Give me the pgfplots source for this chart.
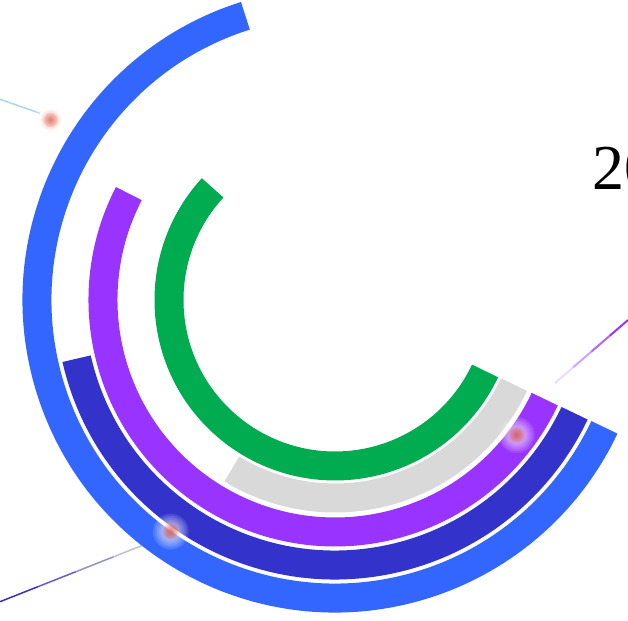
\documentclass[border=0pt]{standalone}
\usepackage{fontspec}
\setmainfont{Liberation Serif}
\usepackage{pgfplots}
\usepackage{pgfplotstable}
\pgfplotsset{compat=1.18}
\definecolor{cgreen}{HTML}{00AC4F}
\definecolor{cgray}{HTML}{D9D9D9}
\definecolor{cpurple}{HTML}{9933FF}
\definecolor{cdblue}{HTML}{3333CC}
\definecolor{cblue}{HTML}{3366FF}
\definecolor{cglow}{RGB}{222,80,60}
\definecolor{cglowl}{RGB}{245,190,180}
\definecolor{lline}{RGB}{170,215,235}
\definecolor{gA}{RGB}{50,50,200}
\definecolor{gB}{RGB}{95,95,200}
\definecolor{gC}{RGB}{145,145,205}
\definecolor{gD}{RGB}{190,190,215}
\pgfdeclareplotmark{blank}{}
\pgfdeclareplotmark{glow}{%
  \pgfsetfillcolor{white}%
  \pgfsetfillopacity{0.12}%
  \pgfpathcircle{\pgfpointorigin}{18pt}\pgfusepath{fill}%
  \pgfpathcircle{\pgfpointorigin}{16pt}\pgfusepath{fill}%
  \pgfpathcircle{\pgfpointorigin}{14pt}\pgfusepath{fill}%
  \pgfpathcircle{\pgfpointorigin}{12pt}\pgfusepath{fill}%
  \pgfsetfillcolor{cglowl}%
  \pgfsetfillopacity{0.2}%
  \pgfpathcircle{\pgfpointorigin}{10.5pt}\pgfusepath{fill}%
  \pgfpathcircle{\pgfpointorigin}{9pt}\pgfusepath{fill}%
  \pgfsetfillcolor{cglow}%
  \pgfsetfillopacity{0.18}%
  \pgfpathcircle{\pgfpointorigin}{7.5pt}\pgfusepath{fill}%
  \pgfpathcircle{\pgfpointorigin}{6pt}\pgfusepath{fill}%
  \pgfpathcircle{\pgfpointorigin}{4.5pt}\pgfusepath{fill}%
  \pgfpathcircle{\pgfpointorigin}{3pt}\pgfusepath{fill}%
  \pgfpathcircle{\pgfpointorigin}{1.8pt}\pgfusepath{fill}%
}

% band: centre (x,y), mid radius r, start angle a0, end angle a1 (degrees, counter-clockwise)
\pgfplotstableread{
x y r a0 a1
0 0 166 137.5 334.7
}\green
\pgfplotstableread{
x y r a0 a1
0 0 198 238.6 334.7
}\gray
\pgfplotstableread{
x y r a0 a1
0 0 232 152.7 334.7
}\purple
\pgfplotstableread{
x y r a0 a1
0 0 265 192.8 334.7
}\dblue
\pgfplotstableread{
x y r a0 a1
0 0 298 107.5 334.7
}\blue

\pgfplotsset{
  band/.style={
    scatter, only marks, mark=blank,
    visualization depends on={\thisrow{r}\as\br},
    visualization depends on={\thisrow{a0}\as\bs},
    visualization depends on={\thisrow{a1}\as\be},
    scatter/@pre marker code/.code={%
      \begin{scope}
      \draw[#1, line width=29pt, line cap=butt] (\bs:\br pt) arc[start angle=\bs, end angle=\be, radius=\br pt];
    },
    scatter/@post marker code/.code={\end{scope}},
  },
}

\begin{document}
\begin{tikzpicture}
\path[use as bounding box] (0pt,0pt) rectangle (628pt,620pt);
\clip (0pt,0pt) rectangle (628pt,620pt);
\begin{axis}[
  x=1pt, y=1pt,
  xmin=-335, xmax=293, ymin=-320, ymax=300,
  hide axis, clip=false,
  anchor=origin, at={(335pt,320pt)},
]
\addplot[band=cgreen] table {\green};
\addplot[band=cgray] table {\gray};
\addplot[band=cpurple] table {\purple};
\addplot[band=cdblue] table {\dblue};
\addplot[band=cblue] table {\blue};

% decorative lines
\addplot[draw=lline, line width=1.5pt, mark=none] coordinates {(-335,200.7) (-295,186.7)};
\addplot[draw=cpurple, line width=2pt, mark=none] coordinates {(293,-20) (274.75,-35.75)};
\addplot[draw=cpurple, opacity=0.75, line width=2pt, mark=none] coordinates {(274.75,-35.75) (256.5,-51.5)};
\addplot[draw=cpurple, opacity=0.45, line width=2pt, mark=none] coordinates {(256.5,-51.5) (238.25,-67.25)};
\addplot[draw=cpurple, opacity=0.18, line width=2pt, mark=none] coordinates {(238.25,-67.25) (220,-83)};
\addplot[draw=gA, line width=1.5pt, mark=none] coordinates {(-335,-301.7) (-297.1,-286.7)};
\addplot[draw=gB, line width=1.5pt, mark=none] coordinates {(-297.1,-286.7) (-259.1,-271.7)};
\addplot[draw=gC, line width=1.5pt, mark=none] coordinates {(-259.1,-271.7) (-221.2,-256.7)};
\addplot[draw=gD, line width=1.5pt, mark=none] coordinates {(-221.2,-256.7) (-183.3,-241.7)};

% glow dots
\addplot[only marks, mark=glow] coordinates {(-284.3,180) (181.7,-135) (-164.3,-231.7)};

\node[anchor=base west, inner sep=0pt, font=\fontsize{64}{64}\selectfont] at (axis cs:257,110) {20};
\end{axis}
\end{tikzpicture}
\end{document}
